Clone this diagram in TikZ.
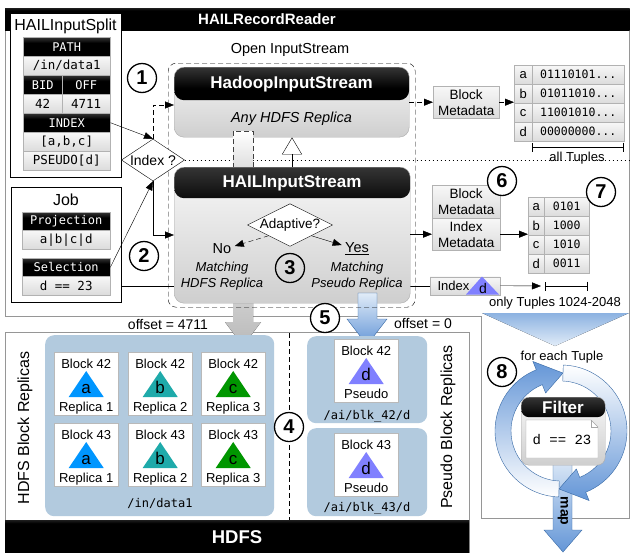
\documentclass[tikz,border=0pt]{standalone}
\usepackage{fontspec}
\setmainfont{Liberation Sans}
\setmonofont{DejaVu Sans Mono}
\newfontfamily\courierfont{Liberation Mono}
\usetikzlibrary{arrows.meta,shapes.geometric,calc}
\pgfdeclarelayer{back}
\pgfdeclarelayer{bg}
\pgfsetlayers{back,bg,main}
\newcommand\fsz[1]{\fontsize{#1}{#1}\selectfont}
\definecolor{cA}{RGB}{0,150,255}
\definecolor{cB}{RGB}{30,170,170}
\definecolor{cC}{RGB}{0,150,0}
\definecolor{cD}{RGB}{128,128,255}
\definecolor{panel}{RGB}{178,202,222}
\definecolor{bline}{RGB}{55,105,165}
\definecolor{bdark}{RGB}{100,150,215}
\definecolor{blight}{RGB}{225,236,248}
\definecolor{funtop}{RGB}{140,178,225}
\definecolor{framegray}{RGB}{150,150,150}
\pgfdeclareverticalshading{hdrshade}{100bp}{color(0bp)=(black); color(60bp)=(black); color(100bp)=(black!45)}
\pgfdeclareverticalshading{barshade}{100bp}{color(0bp)=(black); color(70bp)=(black); color(100bp)=(black!35)}
\tikzset{
  wh/.style 2 args={minimum width=#1pt, minimum height=#2pt},
  tip/.style={-{Triangle[length=9pt,width=7pt]}},
  dsh/.style={dash pattern=on 5pt off 3pt},
  dts/.style={dash pattern=on 1.5pt off 2.5pt},
  blackbar/.style={draw=none, shade, shading=barshade, inner sep=0, anchor=north west},
  hdr/.style={draw=gray!60, shade, shading=hdrshade, text=white, font=\ttfamily\fsz{12}, inner sep=0, anchor=north west},
  cell/.style={draw=gray!60, top color=gray!6, bottom color=gray!28, font=\ttfamily\fsz{12.5}, inner sep=0, anchor=north west},
  lcell/.style={cell, font=\fsz{13}},
  vcell/.style={cell, font=\ttfamily\fsz{11.5}},
  rbox/.style 2 args={draw=gray!65, rounded corners=#1pt, top color=gray!6, bottom color=gray!38, inner sep=0,
    path picture={\shade[shading=hdrshade] (path picture bounding box.north west) rectangle ([yshift=-#2pt]path picture bounding box.north east);}},
  num/.style={circle, draw, line width=1.3pt, minimum size=29pt, inner sep=0, font=\bfseries\fsz{20}},
  card/.style={draw=gray!55, fill=white, inner sep=0, anchor=north west, wh={64}{63}},
  panelbox/.style={fill=panel, rounded corners=9pt, inner sep=0, anchor=north west},
  lbl/.style={font=\fsz{13}, inner sep=0},
}
\newcommand\blockcard[7]{%
  \node[card] (#7) at (#1,#2) {};
  \node[font=\fsz{13}, anchor=base] (#7t) at ($(#7.north)+(0,16)$) {#3};
  \fill[#5] ($(#7.north)+(0,19)$) -- ($(#7.north)+(17.5,45)$) -- ($(#7.north)+(-17.5,45)$) -- cycle;
  \node[font=\fsz{17}, anchor=base] (#7l) at ($(#7.north)+(0,41)$) {#6};
  \node[font=\fsz{13}, anchor=base] (#7b) at ($(#7.north)+(0,59)$) {#4};
}
\begin{document}
\begin{tikzpicture}[x=1pt,y=-1pt]
\useasboundingbox (0,0) rectangle (630,555);

\begin{pgfonlayer}{back}
\draw[framegray, fill=white] (5,8) -- (629.5,8) -- (629.5,518) -- (481,518) -- (481,316) -- (5,316) -- cycle;
\node[blackbar, wh={624.5}{22}] (rrbar) at (5,8) {};
\node[font=\bfseries\fsz{15}, text=white] (rrT) at (267,19.5) {HAILRecordReader};
\draw[framegray, fill=white] (5,332) rectangle (469,552);
\node[blackbar, wh={464}{32}] (hdfsbar) at (5,520) {};
\node[font=\bfseries\fsz{18.5}, text=white] (hdfsT) at (237,537) {HDFS};
\end{pgfonlayer}

% ---- HAILInputSplit
\node[draw, fill=white, inner sep=0, anchor=north west, wh={111}{164}] (split) at (10,13) {};
\node[font=\fsz{16}] (splitT) at (65.5,26) {HAILInputSplit};
\node[hdr, wh={87}{19}] (pathH) at (23,37) {PATH};
\node[cell, wh={87}{19}] (pathV) at (23,56) {/in/data1};
\node[hdr, wh={39}{19}] (bidH) at (23,75) {BID};
\node[hdr, wh={48}{19}] (offH) at (62,75) {OFF};
\node[cell, wh={39}{19}] (bidV) at (23,94) {42};
\node[cell, wh={48}{19}] (offV) at (62,94) {4711};
\node[hdr, wh={87}{19}] (idxH) at (23,113) {INDEX};
\node[cell, wh={87}{19}] (idxV) at (23,132) {[a,b,c]};
\node[cell, wh={87}{19}] (psV) at (23,151) {PSEUDO[d]};

% ---- Job
\node[draw, fill=white, inner sep=0, anchor=north west, wh={110}{115}] (job) at (11,187) {};
\node[font=\fsz{16}] (jobT) at (66,200) {Job};
\node[hdr, wh={88}{18}] (projH) at (22,212) {Projection};
\node[cell, wh={88}{19}] (projV) at (22,230) {a|b|c|d};
\node[hdr, wh={88}{18}] (selH) at (22,258) {Selection};
\node[cell, wh={88}{19}] (selV) at (22,276) {d == 23};

% ---- right metadata
\node[cell, wh={66}{32}, align=center, font=\fontsize{13.5}{16}\selectfont] (bm1) at (433,86) {Block\\Metadata};
\node[lcell, wh={18}{19}] (t1a) at (514,65) {a};
\node[vcell, wh={92}{19}] (t1va) at (532,65) {01110101...};
\node[lcell, wh={18}{19}] (t1b) at (514,84) {b};
\node[vcell, wh={92}{19}] (t1vb) at (532,84) {01011010...};
\node[lcell, wh={18}{19}] (t1c) at (514,103) {c};
\node[vcell, wh={92}{19}] (t1vc) at (532,103) {11001010...};
\node[lcell, wh={18}{19}] (t1d) at (514,122) {d};
\node[vcell, wh={92}{19}] (t1vd) at (532,122) {00000000...};
\coordinate (b1s) at (532,147);
\coordinate (b1e) at (623,147);
\draw[{Bar[width=9pt]}-{Bar[width=9pt]}] (b1s) -- (b1e);
\node[lbl] (allT) at (577,158) {all Tuples};

\node[cell, wh={68}{33}, align=center, font=\fontsize{13.5}{16}\selectfont] (bm2) at (432,185) {Block\\Metadata};
\node[cell, wh={68}{32}, align=center, font=\fontsize{13.5}{16}\selectfont] (im) at (432,218) {Index\\Metadata};
\node[lcell, wh={16}{19}] (t2a) at (528,197) {a};
\node[vcell, wh={45}{19}] (t2va) at (544,197) {0101};
\node[lcell, wh={16}{19}] (t2b) at (528,216) {b};
\node[vcell, wh={45}{19}] (t2vb) at (544,216) {1000};
\node[lcell, wh={16}{19}] (t2c) at (528,235) {c};
\node[vcell, wh={45}{19}] (t2vc) at (544,235) {1010};
\node[lcell, wh={16}{19}] (t2d) at (528,254) {d};
\node[vcell, wh={45}{19}] (t2vd) at (544,254) {0011};

\node[cell, wh={70}{18}] (idx) at (430,276.5) {};
\node[font=\fsz{13}, anchor=west] (idxT) at (434,285.5) {Index};
\fill[cD] (482,276.5) -- (499,294.5) -- (466,294.5) -- cycle;
\node[font=\fsz{14}] (idxd) at (483,288) {d};
\coordinate (b2s) at (545,286);
\coordinate (b2e) at (587,286);
\draw[{Bar[width=9pt]}-{Bar[width=9pt]}] (b2s) -- (b2e);
\node[lbl] (onlyT) at (555,303.5) {only Tuples 1024-2048};
\draw[tip] (idx.east) -- ([xshift=-4pt]b2s);

% ---- behind-the-boxes layer
\begin{pgfonlayer}{bg}
\fill[top color=funtop, bottom color=blight] (482,313) -- (629,313) -- (555,346) -- cycle;
\fill[top color=gray!35, bottom color=gray!55] (233,290) -- (253,290) -- (253,322) -- (261,322) -- (243,346) -- (225,322) -- (233,322) -- cycle;
\draw (selV.east) -- (idx.west);
\end{pgfonlayer}

% ---- streams
\node[rbox={10}{33}, wh={235}{70}, anchor=north west] (hadoop) at (174,67) {};
\node[font=\bfseries\fsz{17}, text=white] (hadoopT) at (291.5,84) {HadoopInputStream};
\node[font=\itshape\fsz{14.5}] (anyT) at (291.5,119) {Any HDFS Replica};
\draw[dsh, draw=gray!50!black, top color=white, bottom color=gray!25] (233,131) rectangle (253,167);

\node[rbox={10}{31}, wh={236}{136}, anchor=north west] (hail) at (174,167) {};
\node[font=\bfseries\fsz{17}, text=white] (hailT) at (292,183) {HAILInputStream};
\node[draw, fill=white, diamond, aspect=2, inner sep=0, wh={85}{42}, font=\fsz{13.5}] (adapt) at (290,225) {Adaptive?};
\node[font=\fsz{14.5}] (no) at (222,249) {No};
\node[font=\fsz{14.5}] (yes) at (357,249) {\underline{Yes}};
\draw[dsh, tip] (adapt.south west) -- ([yshift=3pt]no.east);
\draw[tip] (adapt.south east) -- ([yshift=4pt]yes.west);
\node[font=\itshape\fontsize{13}{16}\selectfont, align=center] (mh) at (222,276) {Matching\\HDFS Replica};
\node[font=\itshape\fontsize{13}{16}\selectfont, align=center] (mp) at (357,276) {Matching\\Pseudo Replica};

\path[draw=bline, top color=blight, bottom color=bdark] (358,293) -- (377,293) -- (377,319) -- (387,319) -- (367,345) -- (347,319) -- (358,319) -- cycle;

\coordinate (inhx) at (292,0);
\draw[-{Triangle[open,length=17pt,width=20pt]}] (hail.north -| inhx) -- (hadoop.south -| inhx);

\node[draw, dsh, rounded corners=8pt, inner sep=0, anchor=north west, wh={247}{244}] (open) at (168,63) {};
\node[font=\fsz{14.5}] (openT) at (290,50) {Open InputStream};

\node[draw, fill=white, diamond, aspect=1.5, inner sep=0, wh={63}{42}, font=\fsz{14}] (idxq) at (153,160) {Index ?};

\coordinate (y105) at (0,105);
\coordinate (y235) at (0,235);
\coordinate (dotend) at (630,160);
\begin{pgfonlayer}{bg}
\draw[dts] (idxq.east) -- (dotend);
\end{pgfonlayer}
\draw[tip] (idxH.east) -- (idxq.north);
\draw[tip] (selH.east) -- (idxq.south);
\draw[dsh, tip] (idxq.north) |- (hadoop.west |- y105);
\draw[tip] (idxq.south) |- (hail.west |- y235);
\draw[dsh, tip] (hadoop.east |- bm1.west) -- (bm1.west);
\draw[dsh, tip] (bm1.east) -- (bm1.east -| t1a.west);
\draw[tip] (hail.east |- im.west) -- (im.west);
\draw[tip] (im.east) -- (im.east -| t2a.west);

% ---- HDFS replicas
\node[panelbox, wh={229}{181}] (hpanel) at (45,335) {};
\node[panelbox, wh={120}{87}] (p1panel) at (307,336) {};
\node[panelbox, wh={120}{88}] (p2panel) at (307,428) {};
\blockcard{54}{352}{Block 42}{Replica 1}{cA}{a}{c11}
\blockcard{128}{352}{Block 42}{Replica 2}{cB}{b}{c12}
\blockcard{201}{352}{Block 42}{Replica 3}{cC}{c}{c13}
\blockcard{54}{423}{Block 43}{Replica 1}{cA}{a}{c21}
\blockcard{128}{423}{Block 43}{Replica 2}{cB}{b}{c22}
\blockcard{201}{423}{Block 43}{Replica 3}{cC}{c}{c23}
\blockcard{334}{339}{Block 42}{Pseudo}{cD}{d}{pc1}
\blockcard{334}{433}{Block 43}{Pseudo}{cD}{d}{pc2}
\node[font=\ttfamily\fsz{12}] (hpath) at (160,503) {/in/data1};
\node[font=\ttfamily\fsz{12}] (p1path) at (367,416) {/ai/blk\_42/d};
\node[font=\ttfamily\fsz{12}] (p2path) at (367,508) {/ai/blk\_43/d};
\node[font=\fsz{16}, rotate=90] (hbr) at (25,428) {HDFS Block Replicas};
\node[font=\fsz{16}, rotate=90] (pbr) at (448,427) {Pseudo Block Replicas};
\node[font=\fsz{14}] (off1) at (168,324) {offset = 4711};
\node[font=\fsz{14}] (off2) at (423,323) {offset = 0};
\coordinate (sepT) at (289,333);
\coordinate (sepB) at (289,520);
\draw[dsh] (sepT) -- (sepB);

% ---- filter / map
\node[font=\fsz{13}] (eachT) at (562,357) {for each Tuple};
\path[draw=bline, top color=blight, bottom color=bdark] (553,455) -- (572,455) -- (572,530) -- (582,530) -- (563,552) -- (544,530) -- (553,530) -- cycle;
\node[font=\bfseries\fsz{14}, rotate=-90] (mapT) at (563,511) {map};
\begin{scope}[shift={(561,431)}]
\path[draw=bline, top color=bdark, bottom color=white] (92:66) arc[start angle=92,end angle=248,radius=66] -- (248:75) -- (272:58) -- (248:41) -- (248:50) arc[start angle=248,end angle=92,radius=50] -- cycle;
\path[draw=bline, top color=white, bottom color=bdark] (272:66) arc[start angle=272,end angle=428,radius=66] -- (68:75) -- (92:58) -- (68:41) -- (68:50) arc[start angle=428,end angle=272,radius=50] -- cycle;
\end{scope}
\node[rbox={8}{20}, wh={84}{68}, anchor=north west] (filter) at (521,397) {};
\node[font=\bfseries\fsz{17}, text=white] (filterT) at (563,407.5) {Filter};
\draw[gray!70, fill=white] (526,420) -- (591,420) -- (598,427) -- (598,458) -- (526,458) -- cycle;
\draw[gray!70] (591,420) -- (591,427) -- (598,427);
\node[font=\courierfont\fsz{14}] (filtx) at (562,440) {d == 23};

% ---- step numbers
\node[num, fill=white] (n1) at (142,78) {1};
\node[num, fill=white] (n2) at (144,256) {2};
\node[num] (n3) at (290,268) {3};
\node[num, fill=white] (n4) at (289,427) {4};
\node[num, fill=white] (n5) at (325,318) {5};
\node[num, fill=white] (n6) at (502,181) {6};
\node[num, fill=white] (n7) at (601,192) {7};
\node[num, fill=white] (n8) at (502,372) {8};
\end{tikzpicture}
\end{document}
